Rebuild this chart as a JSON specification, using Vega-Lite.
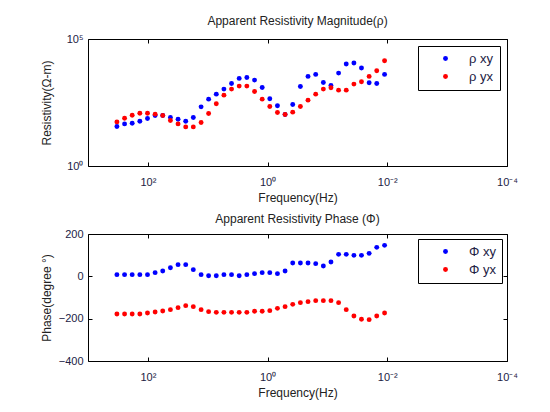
{
  "$schema": "https://vega.github.io/schema/vega-lite/v6.json",
  "background": "white",
  "padding": {"left": 39, "top": 14, "right": 5, "bottom": 5},
  "spacing": 8,
  "datasets": {
    "mag": [
      {"f": 328.8, "v": 35.7, "s": "ρ xy"}, {"f": 244.9, "v": 45.5, "s": "ρ xy"}, {"f": 182.7, "v": 48.3, "s": "ρ xy"}, {"f": 136.1, "v": 57.9, "s": "ρ xy"},
      {"f": 101.4, "v": 74.0, "s": "ρ xy"}, {"f": 75.6, "v": 97.0, "s": "ρ xy"}, {"f": 56.4, "v": 97.0, "s": "ρ xy"}, {"f": 42.0, "v": 80.9, "s": "ρ xy"},
      {"f": 31.3, "v": 69.5, "s": "ρ xy"}, {"f": 23.3, "v": 57.9, "s": "ρ xy"}, {"f": 17.4, "v": 80.9, "s": "ρ xy"}, {"f": 12.9, "v": 213, "s": "ρ xy"},
      {"f": 9.66, "v": 429, "s": "ρ xy"}, {"f": 7.19, "v": 675, "s": "ρ xy"}, {"f": 5.36, "v": 1064, "s": "ρ xy"}, {"f": 4.0, "v": 1778, "s": "ρ xy"},
      {"f": 2.98, "v": 2805, "s": "ρ xy"}, {"f": 2.22, "v": 3069, "s": "ρ xy"}, {"f": 1.65, "v": 2410, "s": "ρ xy"}, {"f": 1.23, "v": 1239, "s": "ρ xy"},
      {"f": 0.918, "v": 442, "s": "ρ xy"}, {"f": 0.684, "v": 234, "s": "ρ xy"}, {"f": 0.51, "v": 106, "s": "ρ xy"}, {"f": 0.38, "v": 264, "s": "ρ xy"},
      {"f": 0.283, "v": 1355, "s": "ρ xy"}, {"f": 0.211, "v": 3365, "s": "ρ xy"}, {"f": 0.157, "v": 4036, "s": "ρ xy"}, {"f": 0.117, "v": 1950, "s": "ρ xy"},
      {"f": 0.0873, "v": 1486, "s": "ρ xy"}, {"f": 0.0651, "v": 4550, "s": "ρ xy"}, {"f": 0.0485, "v": 10328, "s": "ρ xy"}, {"f": 0.0361, "v": 11298, "s": "ρ xy"},
      {"f": 0.027, "v": 7178, "s": "ρ xy"}, {"f": 0.0201, "v": 1892, "s": "ρ xy"}, {"f": 0.015, "v": 1778, "s": "ρ xy"}, {"f": 0.0111, "v": 4036, "s": "ρ xy"},
      {"f": 328.8, "v": 54.6, "s": "ρ yx"}, {"f": 244.9, "v": 76.2, "s": "ρ yx"}, {"f": 182.7, "v": 100, "s": "ρ yx"}, {"f": 136.1, "v": 120, "s": "ρ yx"},
      {"f": 101.4, "v": 120, "s": "ρ yx"}, {"f": 75.6, "v": 110, "s": "ρ yx"}, {"f": 56.4, "v": 97, "s": "ρ yx"}, {"f": 42.0, "v": 61.7, "s": "ρ yx"},
      {"f": 31.3, "v": 45.5, "s": "ρ yx"}, {"f": 23.3, "v": 34.7, "s": "ρ yx"}, {"f": 17.4, "v": 34.7, "s": "ρ yx"}, {"f": 12.9, "v": 51.4, "s": "ρ yx"},
      {"f": 9.66, "v": 116, "s": "ρ yx"}, {"f": 7.19, "v": 281, "s": "ρ yx"}, {"f": 5.36, "v": 617, "s": "ρ yx"}, {"f": 4.0, "v": 1064, "s": "ρ yx"},
      {"f": 2.98, "v": 1396, "s": "ρ yx"}, {"f": 2.22, "v": 1396, "s": "ρ yx"}, {"f": 1.65, "v": 861, "s": "ρ yx"}, {"f": 1.23, "v": 429, "s": "ρ yx"},
      {"f": 0.918, "v": 220, "s": "ρ yx"}, {"f": 0.684, "v": 128, "s": "ρ yx"}, {"f": 0.51, "v": 106, "s": "ρ yx"}, {"f": 0.38, "v": 132, "s": "ρ yx"},
      {"f": 0.283, "v": 220, "s": "ρ yx"}, {"f": 0.211, "v": 392, "s": "ρ yx"}, {"f": 0.157, "v": 675, "s": "ρ yx"}, {"f": 0.117, "v": 1064, "s": "ρ yx"},
      {"f": 0.0873, "v": 1199, "s": "ρ yx"}, {"f": 0.0651, "v": 970, "s": "ρ yx"}, {"f": 0.0485, "v": 970, "s": "ρ yx"}, {"f": 0.0361, "v": 1675, "s": "ρ yx"},
      {"f": 0.027, "v": 2070, "s": "ρ yx"}, {"f": 0.0201, "v": 3365, "s": "ρ yx"}, {"f": 0.015, "v": 5623, "s": "ρ yx"}, {"f": 0.0111, "v": 13964, "s": "ρ yx"}
    ],
    "phase": [
      {"f": 328.8, "v": 7.9, "s": "Φ xy"}, {"f": 244.9, "v": 7.9, "s": "Φ xy"}, {"f": 182.7, "v": 7.9, "s": "Φ xy"}, {"f": 136.1, "v": 7.9, "s": "Φ xy"},
      {"f": 101.4, "v": 7.9, "s": "Φ xy"}, {"f": 75.6, "v": 17.3, "s": "Φ xy"}, {"f": 56.4, "v": 25.2, "s": "Φ xy"}, {"f": 42.0, "v": 40.9, "s": "Φ xy"},
      {"f": 31.3, "v": 55.1, "s": "Φ xy"}, {"f": 23.3, "v": 55.1, "s": "Φ xy"}, {"f": 17.4, "v": 31.5, "s": "Φ xy"}, {"f": 12.9, "v": 7.9, "s": "Φ xy"},
      {"f": 9.66, "v": 3.1, "s": "Φ xy"}, {"f": 7.19, "v": 3.1, "s": "Φ xy"}, {"f": 5.36, "v": 7.9, "s": "Φ xy"}, {"f": 4.0, "v": 7.9, "s": "Φ xy"},
      {"f": 2.98, "v": 3.1, "s": "Φ xy"}, {"f": 2.22, "v": 7.9, "s": "Φ xy"}, {"f": 1.65, "v": 12.6, "s": "Φ xy"}, {"f": 1.23, "v": 17.3, "s": "Φ xy"},
      {"f": 0.918, "v": 17.3, "s": "Φ xy"}, {"f": 0.684, "v": 12.6, "s": "Φ xy"}, {"f": 0.51, "v": 25.2, "s": "Φ xy"}, {"f": 0.38, "v": 63.0, "s": "Φ xy"},
      {"f": 0.283, "v": 63.0, "s": "Φ xy"}, {"f": 0.211, "v": 63.0, "s": "Φ xy"}, {"f": 0.157, "v": 59.8, "s": "Φ xy"}, {"f": 0.117, "v": 48.8, "s": "Φ xy"},
      {"f": 0.0873, "v": 67.7, "s": "Φ xy"}, {"f": 0.0651, "v": 103.9, "s": "Φ xy"}, {"f": 0.0485, "v": 103.9, "s": "Φ xy"}, {"f": 0.0361, "v": 99.2, "s": "Φ xy"},
      {"f": 0.027, "v": 99.2, "s": "Φ xy"}, {"f": 0.0201, "v": 108.7, "s": "Φ xy"}, {"f": 0.015, "v": 137, "s": "Φ xy"}, {"f": 0.0111, "v": 146.4, "s": "Φ xy"},
      {"f": 328.8, "v": -177.9, "s": "Φ yx"}, {"f": 244.9, "v": -177.9, "s": "Φ yx"}, {"f": 182.7, "v": -177.9, "s": "Φ yx"}, {"f": 136.1, "v": -177.9, "s": "Φ yx"},
      {"f": 101.4, "v": -173.2, "s": "Φ yx"}, {"f": 75.6, "v": -168.5, "s": "Φ yx"}, {"f": 56.4, "v": -163.8, "s": "Φ yx"}, {"f": 42.0, "v": -157.5, "s": "Φ yx"},
      {"f": 31.3, "v": -148.0, "s": "Φ yx"}, {"f": 23.3, "v": -138.6, "s": "Φ yx"}, {"f": 17.4, "v": -143.3, "s": "Φ yx"}, {"f": 12.9, "v": -157.5, "s": "Φ yx"},
      {"f": 9.66, "v": -166.9, "s": "Φ yx"}, {"f": 7.19, "v": -170.1, "s": "Φ yx"}, {"f": 5.36, "v": -170.1, "s": "Φ yx"}, {"f": 4.0, "v": -170.1, "s": "Φ yx"},
      {"f": 2.98, "v": -170.1, "s": "Φ yx"}, {"f": 2.22, "v": -170.1, "s": "Φ yx"}, {"f": 1.65, "v": -165.3, "s": "Φ yx"}, {"f": 1.23, "v": -165.3, "s": "Φ yx"},
      {"f": 0.918, "v": -162.2, "s": "Φ yx"}, {"f": 0.684, "v": -151.2, "s": "Φ yx"}, {"f": 0.51, "v": -143.3, "s": "Φ yx"}, {"f": 0.38, "v": -132.3, "s": "Φ yx"},
      {"f": 0.283, "v": -124.4, "s": "Φ yx"}, {"f": 0.211, "v": -119.7, "s": "Φ yx"}, {"f": 0.157, "v": -114.9, "s": "Φ yx"}, {"f": 0.117, "v": -114.9, "s": "Φ yx"},
      {"f": 0.0873, "v": -114.9, "s": "Φ yx"}, {"f": 0.0651, "v": -124.4, "s": "Φ yx"}, {"f": 0.0485, "v": -157.5, "s": "Φ yx"}, {"f": 0.0361, "v": -187.4, "s": "Φ yx"},
      {"f": 0.027, "v": -203.1, "s": "Φ yx"}, {"f": 0.0201, "v": -204.7, "s": "Φ yx"}, {"f": 0.015, "v": -187.4, "s": "Φ yx"}, {"f": 0.0111, "v": -173.2, "s": "Φ yx"}
    ]
  },
  "vconcat": [
    {
      "width": 419,
      "height": 127,
      "title": {"text": "Apparent Resistivity Magnitude(ρ)", "offset": 5},
      "data": {"name": "mag"},
      "layer": [
        {
          "mark": {"type": "point", "filled": true, "size": 24, "opacity": 1},
          "encoding": {
            "x": {"field": "f", "type": "quantitative",
              "scale": {"type": "log", "domain": [0.0001, 1000], "reverse": true, "nice": false},
              "axis": {"title": "Frequency(Hz)", "values": [100, 1, 0.01, 0.0001],
                "labelExpr": "datum.value > 10 ? '10²' : datum.value > 0.5 ? '10⁰' : datum.value > 0.001 ? '10⁻²' : '10⁻⁴'"}},
            "y": {"field": "v", "type": "quantitative",
              "scale": {"type": "log", "domain": [1, 100000], "nice": false},
              "axis": {"title": "Resistivity(Ω-m)", "values": [1, 100000],
                "labelExpr": "datum.value > 10 ? '10⁵' : '10⁰'"}},
            "color": {"field": "s", "type": "nominal",
              "scale": {"domain": ["ρ xy", "ρ yx"], "range": ["#0000ff", "#ff0000"]},
              "legend": {"title": null, "offset": 7}}
          }
        },
        {
          "mark": {"type": "point", "opacity": 0},
          "encoding": {
            "x": {"field": "f", "type": "quantitative",
              "axis": {"orient": "top", "labels": false, "title": null, "values": [100, 1, 0.01, 0.0001]}},
            "y": {"field": "v", "type": "quantitative",
              "axis": {"orient": "right", "labels": false, "title": null, "values": [1, 100000]}}
          }
        }
      ],
      "resolve": {"axis": {"x": "independent", "y": "independent"}}
    },
    {
      "width": 419,
      "height": 127,
      "title": {"text": "Apparent Resistivity Phase (Φ)", "offset": 2},
      "data": {"name": "phase"},
      "layer": [
        {
          "mark": {"type": "point", "filled": true, "size": 24, "opacity": 1},
          "encoding": {
            "x": {"field": "f", "type": "quantitative",
              "scale": {"type": "log", "domain": [0.0001, 1000], "reverse": true, "nice": false},
              "axis": {"title": "Frequency(Hz)", "values": [100, 1, 0.01, 0.0001],
                "labelExpr": "datum.value > 10 ? '10²' : datum.value > 0.5 ? '10⁰' : datum.value > 0.001 ? '10⁻²' : '10⁻⁴'"}},
            "y": {"field": "v", "type": "quantitative",
              "scale": {"domain": [-400, 200], "nice": false, "zero": false},
              "axis": {"title": "Phase(degree °)", "values": [-400, -200, 0, 200]}},
            "color": {"field": "s", "type": "nominal",
              "scale": {"domain": ["Φ xy", "Φ yx"], "range": ["#0000ff", "#ff0000"]},
              "legend": {"title": null, "offset": 5}}
          }
        },
        {
          "mark": {"type": "point", "opacity": 0},
          "encoding": {
            "x": {"field": "f", "type": "quantitative",
              "axis": {"orient": "top", "labels": false, "title": null, "values": [100, 1, 0.01, 0.0001]}},
            "y": {"field": "v", "type": "quantitative",
              "axis": {"orient": "right", "labels": false, "title": null, "values": [-400, -200, 0, 200]}}
          }
        }
      ],
      "resolve": {"axis": {"x": "independent", "y": "independent"}}
    }
  ],
  "resolve": {"scale": {"color": "independent"}, "legend": {"color": "independent"}},
  "config": {
    "font": "Liberation Sans",
    "view": {"stroke": "#000000", "strokeWidth": 1},
    "title": {"fontSize": 12, "fontWeight": "normal", "color": "#222222", "anchor": "middle", "frame": "group"},
    "axis": {
      "domain": false, "grid": false,
      "ticks": true, "tickSize": -4, "tickColor": "#000000", "tickWidth": 1,
      "labelFontSize": 11, "labelColor": "#222244", "labelFlush": false, "labelOverlap": false,
      "titleFontSize": 12, "titleFontWeight": "normal", "titleColor": "#222222"
    },
    "axisX": {"labelPadding": 14, "titlePadding": 5},
    "axisY": {"labelPadding": 9, "minExtent": 30, "maxExtent": 30, "titlePadding": 5},
    "legend": {
      "orient": "top-right", "padding": 6,
      "strokeColor": "#000000", "fillColor": "#ffffff",
      "symbolType": "circle", "symbolSize": 24, "symbolStrokeWidth": 0,
      "labelFontSize": 13, "labelColor": "#222244",
      "rowPadding": 4, "symbolOffset": 15, "labelOffset": 17
    }
  }
}
